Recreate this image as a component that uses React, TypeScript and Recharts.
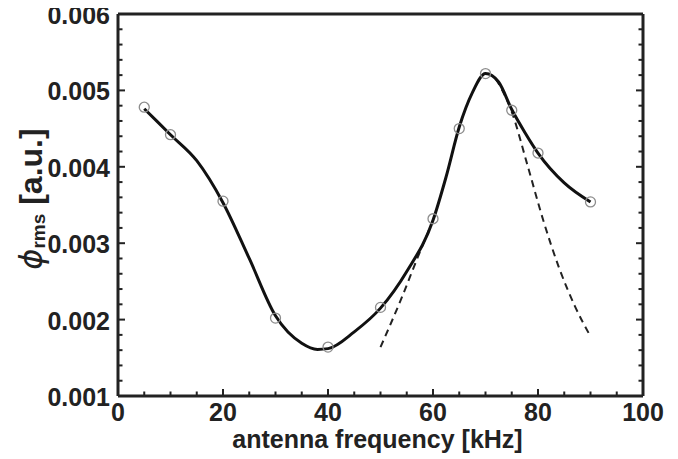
import React from "react";
import { ComposedChart, Line, Scatter, XAxis, YAxis } from "recharts";

// measured points
const measuredFreq = [5, 10, 20, 30, 40, 50, 60, 65, 70, 75, 80, 90];
const measuredPhi = [0.00478, 0.00442, 0.00355, 0.00202, 0.00164, 0.00216, 0.00332, 0.0045, 0.00522, 0.00474, 0.00418, 0.00354];

// solid smoothed curve
const curveFreq = [5, 10, 15, 20, 25, 30, 35, 38, 40, 45, 50, 55, 60, 62.5, 65, 67.5, 70, 72.5, 75, 77.5, 80, 85, 90];
const curvePhi = [0.00476, 0.00442, 0.00408, 0.00353, 0.0028, 0.00205, 0.00169, 0.00161, 0.00162, 0.00184, 0.00215, 0.00263, 0.0033, 0.00387, 0.00452, 0.00497, 0.00522, 0.00511, 0.00475, 0.00445, 0.00418, 0.00379, 0.00354];

// dashed fits
const fitLeftFreq = [50, 54, 57, 60];
const fitLeftPhi = [0.00164, 0.00228, 0.0028, 0.0033];
const fitRightFreq = [72, 75, 78, 81, 84, 87, 90];
const fitRightPhi = [0.00515, 0.00472, 0.00402, 0.0033, 0.00268, 0.00218, 0.00178];

// ticks
const xTicks = [0, 5, 10, 15, 20, 25, 30, 35, 40, 45, 50, 55, 60, 65, 70, 75, 80, 85, 90, 95, 100];
const yTicks = [0.001, 0.0012, 0.0014, 0.0016, 0.0018, 0.002, 0.0022, 0.0024, 0.0026, 0.0028, 0.003, 0.0032, 0.0034, 0.0036, 0.0038, 0.004, 0.0042, 0.0044, 0.0046, 0.0048, 0.005, 0.0052, 0.0054, 0.0056, 0.0058, 0.006];

const toData = (fs: number[], vs: number[]) => fs.map((f, i) => ({ f, v: vs[i] }));
const measured = toData(measuredFreq, measuredPhi);
const curve = toData(curveFreq, curvePhi);
const fitLeft = toData(fitLeftFreq, fitLeftPhi);
const fitRight = toData(fitRightFreq, fitRightPhi);

const FONT = '"Liberation Sans", Arial, Helvetica, sans-serif';
const INK = "#222";

const isMajorX = (v: number) => v % 20 === 0;
const isMajorY = (v: number) => Math.round(v * 10000) % 10 === 0;

const BottomTick = (props: any) => {
  const { x, y, payload } = props;
  const major = isMajorX(payload.value);
  return (
    <g>
      <line x1={x} x2={x} y1={y} y2={y - (major ? 7 : 4.5)} stroke={INK} strokeWidth={2} />
      {major && (
        <text x={x} y={y + 25} textAnchor="middle" fontFamily={FONT} fontWeight="bold" fontSize={25} fill={INK}>
          {payload.value}
        </text>
      )}
    </g>
  );
};

const TopTick = (props: any) => {
  const { x, y, payload } = props;
  const major = isMajorX(payload.value);
  return <line x1={x} x2={x} y1={y} y2={y + (major ? 7 : 4.5)} stroke={INK} strokeWidth={2} />;
};

const LeftTick = (props: any) => {
  const { x, y, payload } = props;
  const major = isMajorY(payload.value);
  return (
    <g>
      <line x1={x} x2={x + (major ? 7 : 4.5)} y1={y} y2={y} stroke={INK} strokeWidth={2} />
      {major && (
        <text x={x - 8} y={y + 10} textAnchor="end" fontFamily={FONT} fontWeight="bold" fontSize={25} fill={INK}>
          {payload.value.toFixed(3)}
        </text>
      )}
    </g>
  );
};

const RightTick = (props: any) => {
  const { x, y, payload } = props;
  const major = isMajorY(payload.value);
  return <line x1={x} x2={x - (major ? 7 : 4.5)} y1={y} y2={y} stroke={INK} strokeWidth={2} />;
};

const XTitle = (props: any) => {
  const vb = props.viewBox || { x: 118, y: 396, width: 525, height: 63 };
  return (
    <text x={vb.x + vb.width / 2 - 3} y={vb.y + 52} textAnchor="middle" fontFamily={FONT} fontWeight="bold" fontSize={25} fill={INK}>
      antenna frequency [kHz]
    </text>
  );
};

const YTitle = (props: any) => {
  const vb = props.viewBox || { x: 0, y: 14, width: 118, height: 382 };
  const x = vb.x + 42;
  const y = vb.y + vb.height / 2 - 6;
  return (
    <text transform={`rotate(-90 ${x} ${y})`} x={x} y={y} textAnchor="middle" fontFamily={FONT} fontWeight="bold" fontSize={32} fill={INK}>
      <tspan fontStyle="italic" fontWeight="normal" fontFamily='"DejaVu Sans", sans-serif'>ϕ</tspan>
      <tspan fontSize={19} dy={3}>rms</tspan>
      <tspan dy={-3}> [a.u.]</tspan>
    </text>
  );
};

const Ring = (props: any) => {
  const { cx, cy } = props;
  if (cx == null || cy == null) return null;
  return <circle cx={cx} cy={cy} r={5} fill="none" stroke="#8c8c8c" strokeWidth={1.3} />;
};

export default function App() {
  return (
    <div style={{ width: 678, height: 459, margin: "-8px 0 0 -8px", background: "#fff" }}>
      <ComposedChart width={678} height={459} margin={{ top: 13, right: 34, bottom: 0, left: 0 }}>
        <XAxis
          xAxisId={0}
          dataKey="f"
          type="number"
          domain={[0, 100]}
          ticks={xTicks}
          interval={0}
          height={63}
          tickSize={0}
          tickMargin={0}
          tickLine={false}
          axisLine={{ stroke: INK, strokeWidth: 3 }}
          tick={<BottomTick />}
          label={<XTitle />}
          allowDataOverflow
        />
        <XAxis
          xAxisId="top"
          orientation="top"
          type="number"
          domain={[0, 100]}
          ticks={xTicks}
          interval={0}
          height={1}
          tickSize={0}
          tickMargin={0}
          tickLine={false}
          axisLine={{ stroke: INK, strokeWidth: 3 }}
          tick={<TopTick />}
          allowDataOverflow
        />
        <YAxis
          yAxisId={0}
          type="number"
          domain={[0.001, 0.006]}
          ticks={yTicks}
          interval={0}
          width={118}
          tickSize={0}
          tickMargin={0}
          tickLine={false}
          axisLine={{ stroke: INK, strokeWidth: 3 }}
          tick={<LeftTick />}
          label={<YTitle />}
          allowDataOverflow
        />
        <YAxis
          yAxisId="right"
          orientation="right"
          type="number"
          domain={[0.001, 0.006]}
          ticks={yTicks}
          interval={0}
          width={1}
          tickSize={0}
          tickMargin={0}
          tickLine={false}
          axisLine={{ stroke: INK, strokeWidth: 3 }}
          tick={<RightTick />}
          allowDataOverflow
        />
        <Scatter data={measured} dataKey="v" shape={<Ring />} isAnimationActive={false} />
        <Line data={fitLeft} dataKey="v" type="monotone" stroke={INK} strokeWidth={2} strokeDasharray="7 5" dot={false} activeDot={false} isAnimationActive={false} />
        <Line data={fitRight} dataKey="v" type="monotone" stroke={INK} strokeWidth={2} strokeDasharray="7 5" dot={false} activeDot={false} isAnimationActive={false} />
        <Line data={curve} dataKey="v" type="monotone" stroke="#111" strokeWidth={3} dot={false} activeDot={false} isAnimationActive={false} />
      </ComposedChart>
    </div>
  );
}
